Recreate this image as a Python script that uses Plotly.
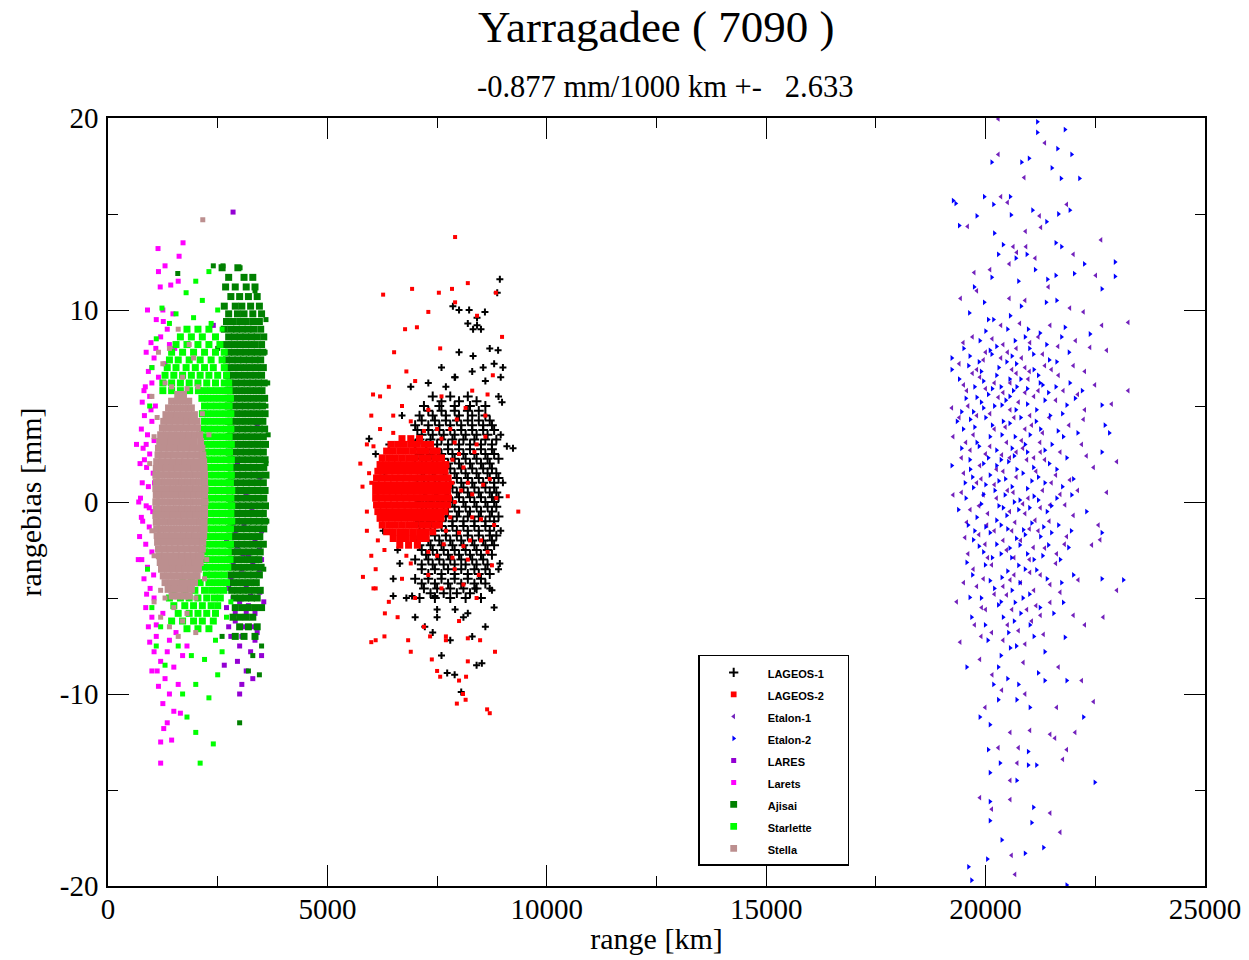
import plotly.graph_objects as go

# ---------------- data (range km, rangebias mm) ----------------
# dense parts are given as rows: (rangebias, [ranges...]); sparse points as (range, rangebias)

lageos1_rows = [
    (5.5, [7400, 7800, 8200]),
    (5.25, [7600, 8000, 8400]),
    (5.0, [7200, 7550, 7900, 8250, 8600]),
    (4.75, [7300, 7600, 7900, 8200, 8450]),
    (4.5, [7100, 7400, 7700, 8000, 8300, 8600]),
    (4.25, [7150, 7450, 7700, 7950, 8200, 8450, 8700]),
    (4.0, [7000, 7300, 7550, 7800, 8050, 8300, 8550, 8750]),
    (3.75, [7050, 7300, 7550, 7800, 8050, 8300, 8550, 8800]),
    (3.5, [7150, 7400, 7650, 7900, 8150, 8400, 8650]),
    (3.25, [7100, 7350, 7600, 7850, 8100, 8350, 8600, 8850]),
    (3.0, [7000, 7250, 7500, 7750, 8000, 8250, 8500, 8750]),
    (2.75, [7000, 7250, 7500, 7750, 8000, 8250, 8500, 8750]),
    (2.5, [7100, 7350, 7600, 7850, 8100, 8350, 8600, 8800]),
    (2.25, [7150, 7400, 7650, 7900, 8150, 8400, 8650, 8900]),
    (2.0, [7000, 7250, 7500, 7750, 8000, 8250, 8500, 8700]),
    (1.75, [7050, 7300, 7550, 7800, 8050, 8300, 8550, 8750]),
    (1.5, [7150, 7400, 7650, 7900, 8150, 8400, 8650, 8850]),
    (1.25, [7200, 7450, 7700, 7950, 8200, 8450, 8700, 8900]),
    (1.0, [7050, 7300, 7550, 7800, 8050, 8300, 8550, 8800]),
    (0.75, [7100, 7350, 7600, 7850, 8100, 8350, 8600, 8800]),
    (0.5, [7200, 7450, 7700, 7950, 8200, 8450, 8700, 8850]),
    (0.25, [7250, 7500, 7750, 8000, 8250, 8500, 8750, 8900]),
    (0.0, [7100, 7350, 7600, 7850, 8100, 8350, 8600, 8800]),
    (-0.25, [7150, 7400, 7650, 7900, 8150, 8400, 8650, 8850]),
    (-0.5, [7250, 7500, 7750, 8000, 8250, 8500, 8750]),
    (-0.75, [7200, 7450, 7700, 7950, 8200, 8450, 8700, 8900]),
    (-1.0, [7100, 7350, 7600, 7850, 8100, 8350, 8600, 8800]),
    (-1.25, [7100, 7350, 7600, 7850, 8100, 8350, 8600, 8800]),
    (-1.5, [7200, 7450, 7700, 7950, 8200, 8450, 8700]),
    (-1.75, [7200, 7450, 7700, 7950, 8200, 8450, 8700, 8850]),
    (-2.0, [7050, 7300, 7550, 7800, 8050, 8300, 8550, 8750]),
    (-2.25, [7100, 7350, 7600, 7850, 8100, 8350, 8600, 8800]),
    (-2.5, [7150, 7400, 7650, 7900, 8150, 8400, 8650]),
    (-2.75, [7250, 7500, 7750, 8000, 8250, 8500, 8750]),
    (-3.0, [7000, 7300, 7550, 7800, 8050, 8300, 8550]),
    (-3.25, [7150, 7400, 7650, 7900, 8150, 8400, 8650]),
    (-3.5, [7150, 7450, 7750, 8050, 8350, 8600]),
    (-3.75, [7300, 7600, 7900, 8200, 8450, 8700]),
    (-4.0, [7000, 7300, 7600, 7900, 8200, 8500]),
    (-4.25, [7150, 7450, 7750, 8050, 8350, 8600]),
    (-4.5, [7200, 7500, 7800, 8100, 8400]),
    (-4.75, [7350, 7650, 7950, 8250]),
    (-5.0, [7100, 7450, 7800, 8150, 8500]),
]
lageos1_pts = [
    (6400, 3.0), (6600, -2.5), (6700, 4.5), (6500, -4.0), (6300, 1.5), (6800, -5.0), (6900, 6.0),
    (5950, 3.3), (6100, 2.5), (6270, -1.5), (6650, -3.2),
    (8930, 11.6), (7860, 10.2), (8230, 10.0), (8410, 9.6), (8320, 9.0), (8410, 9.2), (8870, 10.9),
    (8890, 7.9), (9000, 7.0), (8320, 7.6), (8550, 7.0), (7910, 6.5), (8980, 5.2), (9090, 2.9),
    (9230, 2.8), (8930, -3.2), (8750, -4.6), (8360, -4.5), (8520, -8.4), (7730, -8.9), (6930, -4.9),
    (6500, -4.9), (7450, -4.9), (7910, -5.6), (7500, -6.0), (7220, -6.5), (8590, 9.9),
    (8200, 9.3), (8500, 9.0), (8700, 8.0), (8000, 7.8), (8800, 7.2), (7600, 7.0), (8300, 6.8),
    (8600, 6.3), (7300, 6.2), (7900, 6.5), (8900, 5.5), (8950, 3.5), (9000, 1.0), (8950, -1.5),
    (8900, -3.5), (8800, -5.5), (8600, -6.5), (8300, -7.0), (7800, -7.2), (7400, -6.8), (8100, -6.0),
    (7600, -8.0), (8400, -8.5), (7900, -9.0), (8200, -5.8), (7000, -6.0), (8700, -4.5), (7500, -5.6),
    (8000, 10.0), (8050, -9.9), (7700, 6.0), (8950, 6.5),
]

lageos2_rows = [
    (3.3, [6700, 6900, 7100]),
    (3.0, [6450, 6600, 6750, 6900, 7050, 7200, 7350]),
    (2.65, [6350, 6500, 6650, 6800, 6950, 7100, 7250, 7400, 7500]),
    (2.3, [6250, 6400, 6550, 6700, 6850, 7000, 7150, 7300, 7450, 7600]),
    (1.95, [6200, 6330, 6470, 6600, 6740, 6880, 7020, 7160, 7300, 7440, 7580, 7700]),
    (1.6, [6150, 6280, 6420, 6560, 6700, 6840, 6980, 7120, 7260, 7400, 7540, 7680]),
    (1.25, [6120, 6250, 6390, 6530, 6670, 6810, 6950, 7090, 7230, 7370, 7510, 7650, 7750]),
    (0.9, [6100, 6230, 6370, 6510, 6650, 6790, 6930, 7070, 7210, 7350, 7490, 7630, 7760]),
    (0.55, [6100, 6200, 6340, 6480, 6620, 6760, 6900, 7040, 7180, 7320, 7460, 7600, 7740]),
    (0.2, [6100, 6230, 6370, 6510, 6650, 6790, 6930, 7070, 7210, 7350, 7490, 7630, 7760]),
    (-0.15, [6120, 6250, 6390, 6530, 6670, 6810, 6950, 7090, 7230, 7370, 7510, 7650, 7740]),
    (-0.5, [6150, 6280, 6420, 6560, 6700, 6840, 6980, 7120, 7260, 7400, 7540, 7680]),
    (-0.85, [6200, 6330, 6470, 6610, 6750, 6890, 7030, 7170, 7310, 7450, 7590]),
    (-1.2, [6250, 6400, 6550, 6700, 6850, 7000, 7150, 7300, 7450, 7550]),
    (-1.55, [6350, 6500, 6650, 6800, 6950, 7100, 7250, 7400]),
    (-1.9, [6500, 6650, 6800, 6950, 7100, 7250]),
    (-2.25, [6650, 6850, 7050]),
]
lageos2_pts = [
    (5900, 3.0), (6000, 4.5), (6200, 5.5), (6400, 6.0), (6700, 5.0), (7000, 6.3), (7300, 4.8),
    (7600, 5.5), (7800, 3.8), (8000, 2.5), (8200, 1.0), (8300, -0.8), (8100, -2.3), (7900, -3.5),
    (7600, -4.5), (7300, -3.8), (7000, -5.0), (6700, -4.0), (6400, -5.2), (6100, -3.5), (5900, -1.5),
    (5800, 0.8), (5750, 2.0), (6000, -2.8), (6300, -2.5), (6900, -3.2), (7500, -2.8), (7700, -1.5),
    (7900, 0.0), (7850, 2.2), (7500, 3.8), (6900, 4.2), (6500, 4.5), (6200, 3.8), (6050, -4.5),
    (6600, -6.0), (7200, -6.5), (7700, -7.0), (8000, -6.2), (6300, -7.0), (6900, -7.8),
    (7500, -8.8), (8200, -8.3), (6000, -7.3), (8000, -9.3), (8700, -11.0), (9350, -0.5),
    (7910, 13.8), (8200, 11.4), (6270, 10.8), (6930, 11.1), (7540, 10.9), (7840, 11.1), (8840, 10.9),
    (7300, 9.9), (7910, 10.4), (8410, 9.7), (8980, 8.6), (6770, 9.0), (7040, 9.1), (7570, 8.0),
    (6520, 7.8), (8770, 6.6), (6040, 5.6), (9110, 0.3), (5810, -3.9), (6100, -4.5), (6310, -5.8),
    (6100, -7.2), (6840, -7.2), (7340, -7.0), (7700, -7.2), (8200, -7.1), (8480, -7.2), (7380, -8.2),
    (7570, -9.1), (8160, -9.1), (8820, -7.8), (8090, -10.0), (7950, -10.5), (8640, -10.8),
    (8150, -10.3), (5950, 1.5), (8400, 3.0), (8500, -2.0), (8600, 4.5), (6800, 6.8),
    (5900, -0.5), (6050, 2.9), (6000, 1.0), (6150, -2.0), (7850, 1.0), (7800, -0.8), (7600, 3.3),
    (7650, -2.2), (6500, 3.6), (7200, 3.7), (6800, -2.8), (7300, -2.6),
    (7900, 3.1), (8100, 1.8), (8300, 0.4), (8500, -0.9), (8700, 1.2), (8000, -1.6), (8200, -3.0),
    (8450, -3.8), (8650, -2.6), (7950, 4.3), (8350, 2.6), (8600, 3.4), (8800, -1.2), (8050, 0.6),
    (8250, -2.0), (8550, 0.9), (8750, -3.3), (8150, 4.9), (7850, -2.9), (8400, -5.0), (8650, 5.6),
    (8100, -4.3), (8300, 5.8), (8850, 0.2),
]

etalon1_pts = [
    (20290, 19.95), (21350, 18.7), (20290, 18.1), (20880, 16.9), (20350, 15.9), (20500, 15.6),
    (21230, 14.9), (21850, 15.5), (19590, 14.35), (20910, 14.1), (21260, 14.3), (22630, 13.65),
    (20630, 13.3), (20920, 13.3), (20710, 13.0), (21130, 12.7), (22000, 12.9), (20100, 12.1),
    (20540, 12.4), (22510, 11.8), (19740, 11.95), (21430, 11.2), (19430, 10.6), (19800, 11.0),
    (20540, 10.6), (20900, 10.5), (21920, 10.1), (22230, 9.9), (23250, 9.35), (20350, 9.2),
    (20780, 9.3), (21470, 9.2), (22650, 9.2),
    (19490, 8.3), (20400, 8.2), (21010, 8.3), (22050, 8.4), (22380, 8.05), (22760, 7.9),
    (19950, 7.4), (20820, 7.5), (21350, 7.1), (22260, 6.8), (19870, 6.5), (20560, 6.2),
    (20970, 6.4), (21660, 6.6), (22490, 6.1), (19570, 5.8), (20290, 5.45), (20900, 5.7),
    (21770, 5.8), (22260, 4.8), (22870, 5.1), (23250, 5.8), (19230, 4.9), (20560, 4.8),
    (21010, 4.5), (22230, 4.3), (19260, 3.4), (19720, 3.5), (20480, 3.1), (20820, 3.2),
    (21240, 3.1), (22190, 3.0), (19450, 2.3), (19870, 1.9), (20370, 2.45), (20940, 2.2),
    (21350, 2.2), (21920, 1.15), (22460, 1.8), (22990, 2.1), (19260, 0.37), (19950, 0.37),
    (20630, 0.5), (20970, 0.2), (21470, -0.15), (21810, -0.15), (22760, 0.5), (19570, -1.06),
    (20030, -1.2), (20670, -1.06), (21130, -0.95), (22000, -0.7), (22570, -1.2), (19530, -1.85),
    (19990, -2.2), (20480, -2.5), (21090, -2.37), (21620, -2.7), (22420, -2.24), (22610, -1.97),
    (19720, -3.5), (20140, -3.28), (20560, -4.06), (21010, -3.67), (21470, -4.3), (22110, -4.06),
    (22990, -4.6), (19340, -5.2), (19910, -5.5), (20480, -4.84), (20940, -5.6), (21470, -5.23),
    (22000, -5.9), (22260, -6.4), (22680, -6.0), (20140, -6.8), (20750, -6.7), (21320, -6.9),
    (19420, -7.3), (19870, -8.2), (20860, -8.36), (21660, -8.6), (22190, -9.3), (22460, -10.4),
    (20370, -9.8), (21620, -10.7), (19990, -10.7), (20560, -12.0), (21010, -11.9), (21470, -12.1),
    (22040, -12.0), (20290, -12.8), (20750, -12.8), (20720, -13.6), (21580, -12.3), (21760, -13.4),
    (21850, -12.9), (20560, -14.5), (19870, -15.4), (20140, -16.0), (20560, -15.5), (21470, -16.2),
    (21700, -17.2), (20590, -18.4), (20670, -19.4),
    (20000, 7.8), (20500, 7.8), (20900, 7.0), (21300, 7.7), (19800, 6.9), (20200, 6.2),
    (20700, 6.7), (21100, 5.5), (19600, 5.0), (20100, 4.6), (20450, 3.9), (20900, 3.8),
    (21300, 3.6), (19550, 3.1), (20000, 2.5), (20400, 1.6), (20700, 2.6), (21100, 2.3),
    (21500, 1.0), (19800, 1.0), (20200, 0.9), (20550, -0.5), (20900, -0.6), (21300, 0.6),
    (19650, -0.4), (20050, -0.6), (20400, -2.0), (20800, -2.0), (21200, -1.5), (21600, -3.2),
    (19800, -4.4), (20200, -4.8), (20650, -3.8), (21100, -4.6), (20400, -7.2), (20900, -7.4),
    (21250, -5.9), (19900, -7.0), (20150, -9.0), (20900, -10.0),
    (19700, 8.6), (20150, 8.5), (20700, 8.0), (21200, 8.6), (21650, 8.1),
    (19400, 7.2), (19700, 6.7), (20350, 7.5), (20600, 6.9), (21000, 6.8), (21500, 6.9), (22000, 7.1),
    (19500, 6.1), (20000, 5.9), (20400, 5.7), (20750, 5.2), (21200, 5.8), (21600, 5.3), (22100, 5.6),
    (19400, 4.4), (19800, 4.5), (20200, 3.8), (20650, 4.4), (21050, 4.0), (21450, 4.4), (21900, 4.0),
    (19650, 2.7), (20100, 2.9), (20550, 2.3), (20850, 2.8), (21250, 2.6), (21700, 2.6), (22300, 2.4),
    (19500, 1.5), (19900, 1.2), (20250, 1.7), (20700, 1.3), (21150, 1.6), (21600, 1.4), (22100, 0.6),
    (19450, 0.5), (19850, -0.2), (20250, 0.2), (20500, 0.6), (20850, -0.1), (21250, -0.3), (21700, 0.4),
    (19850, -1.7), (20200, -1.5), (20600, -1.5), (21000, -1.4), (21450, -1.0), (21850, -1.8),
    (19600, -2.7), (20050, -2.9), (20650, -2.9), (21000, -3.0), (21350, -2.4), (21800, -2.2),
    (19500, -4.2), (19950, -4.0), (20400, -4.4), (20800, -4.2), (21250, -3.8), (21700, -4.7),
    (20000, -5.6), (20600, -5.6), (21150, -5.4), (19750, -6.4), (20500, -6.4), (21050, -6.2),
]

etalon2_pts = [
    (21180, 19.8), (21180, 19.25), (21810, 19.4), (21640, 18.4), (21960, 18.1), (20140, 17.7),
    (20820, 17.7), (20990, 17.9), (21510, 17.4), (21720, 16.85), (22140, 16.85), (19320, 15.55),
    (19970, 15.9), (20560, 15.9), (20180, 15.5), (20580, 14.95), (21070, 15.2), (21660, 15.0),
    (21920, 15.2), (19800, 14.9), (19400, 14.4), (21390, 14.6), (20200, 14.0), (20400, 13.4),
    (21600, 13.5), (21730, 13.3), (20290, 12.9), (20690, 12.7), (20940, 12.9), (22250, 12.4),
    (22950, 12.5), (21130, 12.1), (21600, 11.8), (22020, 11.9), (22950, 11.75), (20140, 11.7),
    (20750, 11.5), (21410, 11.6), (22650, 11.1), (19740, 11.2), (19970, 10.4), (20810, 10.2),
    (21380, 10.4), (21620, 10.5), (19630, 9.85), (20060, 9.5), (20180, 9.5), (20560, 9.7),
    (20970, 9.0), (21240, 8.8), (21810, 9.1), (22380, 8.75), (19260, 15.7),
    (19870, 8.4), (20100, 7.9), (20670, 8.4), (21390, 8.2), (21730, 8.6), (19230, 7.5),
    (19640, 7.6), (20140, 7.7), (20480, 7.3), (21090, 7.7), (21620, 7.3), (19230, 6.9),
    (19610, 7.1), (20250, 6.6), (20710, 6.0), (21240, 6.2), (21920, 6.2), (19800, 5.45),
    (20060, 5.6), (20460, 5.3), (20630, 5.8), (21430, 5.7), (22040, 5.4), (22650, 5.05),
    (19450, 4.7), (19720, 4.7), (19950, 4.9), (20370, 5.05), (20690, 4.8), (21160, 4.8),
    (21470, 4.5), (21850, 5.05), (22720, 4.0), (22820, 3.6), (19490, 3.8), (19800, 3.1),
    (20100, 3.4), (20370, 3.5), (20670, 3.4), (21010, 3.5), (21510, 3.0), (21770, 3.4),
    (22650, 2.6), (19640, 2.2), (20060, 2.3), (20250, 1.9), (20520, 2.1), (20710, 1.7),
    (21090, 1.8), (21620, 1.7), (22000, 1.2), (19230, 1.9), (19530, 1.0), (19720, 0.75),
    (20210, 0.6), (20440, 0.37), (20780, 0.1), (21200, 0.1), (21620, 0.2), (21960, 0.37),
    (19380, -0.4), (19800, -0.8), (20250, -0.95), (20480, -0.7), (20860, -1.45), (21320, -1.3),
    (21660, -1.2), (22650, -1.6), (19720, -1.97), (20250, -2.2), (20590, -2.9), (20780, -2.24),
    (21430, -2.24), (21890, -2.37),
    (19570, -3.15), (19990, -3.28), (20370, -3.93), (20780, -4.2), (21160, -3.54), (21730, -4.2),
    (22650, -4.0), (23140, -4.06), (19640, -4.97), (20290, -5.36), (20670, -5.23), (21240, -5.5),
    (21770, -5.23), (19680, -6.0), (19990, -6.4), (20520, -6.8), (21010, -6.4), (21810, -7.05),
    (21350, -7.8), (19570, -8.6), (20290, -8.6), (20560, -7.6), (21200, -8.9), (21850, -9.3),
    (20180, -9.5), (20750, -9.5), (21350, -9.3), (20290, -10.3), (20710, -10.3), (21010, -10.7),
    (22230, -11.2), (19870, -11.2), (20100, -11.6), (20060, -12.9), (20970, -13.0), (20330, -13.6),
    (20970, -13.7), (21160, -13.7), (20100, -14.1), (20710, -14.5), (22490, -14.6), (20100, -15.6),
    (21090, -15.9), (20100, -16.6), (21050, -16.7), (20370, -17.6), (20900, -18.3), (21320, -18.0),
    (20040, -18.6), (19610, -19.0), (19680, -19.7), (21850, -19.95),
    (19900, 6.8), (20300, 7.0), (20700, 7.2), (21100, 6.9), (19750, 6.0), (20150, 5.9),
    (20550, 6.4), (20950, 5.9), (21300, 6.1), (19650, 4.3), (20000, 4.4), (20400, 4.2),
    (20800, 4.4), (21150, 4.2), (19850, 2.9), (20250, 2.7), (20600, 2.8), (20950, 2.6),
    (21350, 2.7), (19700, 1.3), (20100, 1.4), (20450, 1.2), (20850, 1.5), (21200, 1.3),
    (19900, -0.1), (20300, -0.2), (20650, 0.0), (21000, -0.3), (21400, -0.5), (19750, -1.5),
    (20100, -1.6), (20500, -1.4), (20900, -1.7), (21250, -1.8), (19950, -2.6), (20350, -2.7),
    (20750, -3.3), (21100, -3.0), (20000, 8.9), (20500, 9.0), (20900, 8.6), (20200, -4.5),
    (20600, -4.6), (21000, -4.8), (20400, -6.0), (20800, -5.8), (20700, -7.5), (20350, -8.0),
    (20500, -9.2),
    (19500, 8.0), (19850, 7.3), (20250, 8.1), (20600, 7.6), (21000, 8.0), (21450, 7.4), (21900, 7.8),
    (19400, 6.4), (19950, 6.3), (20350, 6.0), (20800, 6.4), (21200, 6.6), (21600, 6.0), (22200, 5.8),
    (19550, 5.4), (19900, 5.2), (20200, 5.0), (20550, 5.5), (20950, 5.1), (21350, 5.3), (21750, 4.6),
    (19350, 4.2), (19750, 3.9), (20150, 4.0), (20550, 4.1), (20900, 3.0), (21250, 3.8), (21650, 3.7),
    (22100, 3.6), (19450, 2.8), (19950, 2.0), (20350, 2.2), (20650, 2.4), (21050, 1.1), (21450, 2.0),
    (21850, 2.3), (19650, 1.7), (20000, 0.9), (20300, 1.1), (20600, 0.8), (20950, 0.7), (21350, 1.0),
    (21750, 0.8), (19550, 0.2), (19950, 0.4), (20400, -0.3), (20750, -0.4), (21100, 0.3), (21500, -0.2),
    (22300, -0.5), (19600, -1.2), (20000, -1.3), (20350, -1.2), (20700, -1.9), (21050, -1.1),
    (21500, -1.6), (21950, -1.5), (19850, -2.3), (20150, -2.9), (20550, -2.4), (20950, -2.7),
    (21300, -2.8), (21700, -3.0), (19700, -3.8), (20100, -4.1), (20500, -3.6), (20900, -3.5),
    (21400, -4.0), (22000, -3.8), (19900, -5.0), (20350, -5.2), (20850, -5.0), (21550, -5.8),
    (20050, -7.2), (20650, -6.2), (21100, -7.0),
]

lares_pts = [
    (2850, 15.1), (2400, 9.2), (3190, 8.6), (3300, 7.0), (3460, 5.0), (3460, 1.3), (3390, 0.6),
    (3280, -0.5), (2850, -1.1), (3500, -1.5), (3080, -2.7), (2950, -3.0), (3300, -3.2), (3460, -4.7),
    (2800, -4.0), (3150, -4.5), (3000, -5.2), (2700, -5.5), (3350, -5.8), (2900, -6.2), (3100, -6.5),
    (3400, -6.8), (2800, -7.0), (3000, -7.5), (3250, -7.8), (2950, -8.3), (3150, -8.8), (3050, -9.5),
    (3000, -10.0), (3300, -9.2), (2650, -8.5), (3500, -8.0), (3100, -3.8), (2700, -2.0), (3350, 3.0),
    (3200, -1.8), (2900, -5.8), (3050, -4.2), (2750, -6.5), (3200, -5.4), (3450, -3.6), (3550, -5.2),
    (2900, -1.5), (3100, -1.2), (3350, -2.0), (2950, -2.3), (3200, -2.8), (3450, -2.5), (2850, -3.3),
    (3050, -3.5), (3350, -4.2), (2950, -4.6), (3250, -4.9), (3500, -3.0), (3000, -6.0), (3300, -6.5),
    (2850, -5.0), (3150, -5.8), (3400, -5.5), (2750, -4.5), (3050, -7.0), (3350, -7.2), (3450, -1.0),
    (3150, 0.5), (2950, 2.0), (3400, 4.0),
]

larets_pts = [
    (1710, 13.5), (1140, 13.2), (1620, 12.8), (1430, 11.3), (1190, 11.2), (1250, 10.0), (1480, 9.8),
    (1100, 9.5), (1350, 9.0), (980, 8.3), (1200, 8.6), (1520, 8.0), (870, 7.8), (1050, 7.5),
    (1300, 7.2), (920, 6.8), (1150, 6.5), (850, 6.0), (1000, 6.2), (780, 5.2), (950, 5.5),
    (1080, 5.0), (830, 4.5), (1000, 4.2), (760, 3.8), (900, 3.5), (1050, 3.2), (800, 2.8),
    (950, 2.5), (730, 2.0), (880, 1.8), (1030, 1.5), (780, 1.0), (920, 0.8), (740, 0.2),
    (870, -0.2), (1020, -0.5), (790, -1.0), (940, -1.3), (720, -1.8), (860, -2.2), (1000, -2.6),
    (770, -3.0), (900, -3.4), (820, -4.0), (960, -4.5), (1050, -5.0), (860, -5.5), (1000, -6.0),
    (920, -6.5), (1100, -7.0), (1050, -7.8), (1200, -8.3), (1000, -8.8), (1300, -9.2), (1150, -9.6),
    (1400, -10.0), (1250, -10.5), (1500, -10.9), (1350, -11.5), (1200, -12.5), (1200, -13.6),
    (1600, -9.5), (1700, -8.0), (1800, -7.5), (1400, -7.2), (1550, -6.8), (1650, -11.0),
    (1100, -6.4), (1250, -5.8), (1000, 7.0), (1400, 8.2), (700, 0.0), (650, 3.0), (690, -3.0),
    (1150, 12.0), (1600, 11.5), (900, 10.0), (1300, 12.3), (820, 5.8), (760, -0.8), (830, 2.2),
    (980, 4.8), (1060, 1.0), (1040, -3.8), (880, -4.8), (950, -7.3), (1120, -8.8), (1350, -7.8),
    (1500, -8.6), (1270, -11.8), (1450, -12.4), (870, 3.0), (940, -0.3), (1090, 8.0), (1260, 9.4),
]

ajisai_rows = [
    (12.2, [2600, 2960]),
    (11.7, [2750, 3100, 3300]),
    (11.2, [2680, 2900, 3150, 3350]),
    (10.7, [2800, 3000, 3200, 3400]),
    (10.2, [2650, 2900, 3050, 3250, 3450]),
    (9.8, [2750, 2950, 3100, 3300, 3500]),
    (9.4, [2700, 2850, 3000, 3150, 3300, 3450]),
    (9.0, [2650, 2800, 2930, 3060, 3190, 3320, 3480]),
    (8.6, [2750, 2880, 3010, 3140, 3270, 3400, 3550]),
    (8.2, [2690, 2820, 2950, 3080, 3210, 3340, 3500]),
    (7.8, [2750, 2880, 3010, 3140, 3270, 3400, 3530]),
    (7.4, [2700, 2830, 2960, 3090, 3220, 3350, 3480]),
    (7.0, [2760, 2890, 3020, 3150, 3280, 3410, 3540]),
    (6.6, [2720, 2850, 2980, 3110, 3240, 3370, 3500]),
    (6.2, [2780, 2910, 3040, 3170, 3300, 3430, 3560]),
    (5.8, [2730, 2860, 2990, 3120, 3250, 3380, 3510]),
    (5.4, [2790, 2920, 3050, 3180, 3310, 3440, 3570]),
    (5.0, [2740, 2870, 3000, 3130, 3260, 3390, 3520]),
    (4.6, [2800, 2930, 3060, 3190, 3320, 3450, 3580]),
    (4.2, [2750, 2880, 3010, 3140, 3270, 3400, 3530]),
    (3.8, [2800, 2930, 3060, 3190, 3320, 3450, 3570]),
    (3.4, [2760, 2890, 3020, 3150, 3280, 3410, 3540]),
    (3.0, [2810, 2940, 3070, 3200, 3330, 3460, 3590]),
    (2.6, [2760, 2890, 3020, 3150, 3280, 3410, 3540]),
    (2.2, [2800, 2930, 3060, 3190, 3320, 3450, 3580]),
    (1.8, [2770, 2900, 3030, 3160, 3290, 3420, 3550]),
    (1.4, [2810, 2940, 3070, 3200, 3330, 3460, 3600]),
    (1.0, [2760, 2890, 3020, 3150, 3280, 3410, 3540]),
    (0.6, [2800, 2930, 3060, 3190, 3320, 3450, 3580]),
    (0.2, [2770, 2900, 3030, 3160, 3290, 3420, 3550]),
    (-0.2, [2810, 2940, 3070, 3200, 3330, 3460, 3590]),
    (-0.6, [2760, 2890, 3020, 3150, 3280, 3410, 3540]),
    (-1.0, [2800, 2930, 3060, 3190, 3320, 3450, 3570]),
    (-1.4, [2770, 2900, 3030, 3160, 3290, 3420, 3550]),
    (-1.8, [2810, 2940, 3070, 3200, 3330, 3460]),
    (-2.2, [2780, 2910, 3040, 3170, 3300, 3430, 3540]),
    (-2.6, [2820, 2950, 3080, 3210, 3340, 3470]),
    (-3.0, [2790, 2920, 3050, 3180, 3310, 3440]),
    (-3.4, [2840, 2970, 3100, 3230, 3360, 3490]),
    (-3.8, [2800, 2930, 3060, 3190, 3320, 3450]),
    (-4.2, [2860, 2990, 3120, 3250, 3380]),
    (-4.6, [2820, 2950, 3080, 3210, 3340, 3470]),
    (-5.0, [2880, 3010, 3140, 3270, 3400]),
    (-5.5, [2900, 3050, 3200, 3350, 3500]),
    (-6.0, [2850, 3000, 3150, 3300]),
    (-6.5, [3000, 3200, 3400]),
    (-7.0, [2900, 3100, 3350]),
]
ajisai_pts = [
    (3000, -11.5), (3300, -8.0), (3500, -7.5), (3450, -9.0), (3200, -8.8), (2600, -7.0), (3600, 2.0),
    (3620, -1.0), (3600, 5.0), (3580, 7.8), (3550, -3.5), (3600, 9.5), (2500, 8.0), (2400, 12.3),
    (2620, 12.3), (3010, 12.2), (1590, 11.9), (3350, 11.0), (3650, 3.5), (3640, 6.2),
]

starlette_rows = [
    (9.0, [1800, 2050, 2300]),
    (8.6, [1650, 1900, 2150, 2450]),
    (8.2, [1550, 1800, 2050, 2300, 2550]),
    (7.8, [1450, 1700, 1950, 2200, 2450, 2650]),
    (7.4, [1400, 1600, 1850, 2100, 2350, 2600]),
    (7.0, [1350, 1550, 1780, 1990, 2200, 2400, 2650]),
    (6.6, [1300, 1500, 1700, 1900, 2100, 2300, 2500, 2700]),
    (6.2, [1250, 1450, 1650, 1850, 2050, 2250, 2450, 2650, 2750]),
    (5.8, [1250, 1450, 1650, 1860, 2060, 2200, 2340, 2480, 2620, 2760]),
    (5.4, [2140, 2270, 2410, 2550, 2690, 2790]),
    (5.0, [2200, 2340, 2480, 2620, 2760]),
    (4.6, [2150, 2270, 2410, 2550, 2690, 2800]),
    (4.2, [2200, 2340, 2480, 2620, 2760]),
    (3.8, [2160, 2280, 2420, 2560, 2700, 2800]),
    (3.4, [2200, 2340, 2480, 2620, 2760]),
    (3.0, [2160, 2280, 2420, 2560, 2700, 2810]),
    (2.6, [2220, 2350, 2490, 2630, 2770]),
    (2.2, [2170, 2290, 2430, 2570, 2710, 2810]),
    (1.8, [2220, 2360, 2500, 2640, 2780]),
    (1.4, [2180, 2300, 2440, 2580, 2720, 2810]),
    (1.0, [2230, 2370, 2510, 2650, 2790]),
    (0.6, [2190, 2310, 2450, 2590, 2730, 2820]),
    (0.2, [2240, 2380, 2520, 2660, 2800]),
    (-0.2, [2200, 2320, 2460, 2600, 2740, 2820]),
    (-0.6, [2250, 2390, 2530, 2670, 2800]),
    (-1.0, [2200, 2330, 2470, 2610, 2750, 2820]),
    (-1.4, [2240, 2380, 2520, 2660, 2790]),
    (-1.8, [2200, 2330, 2470, 2610, 2750]),
    (-2.2, [2250, 2390, 2530, 2670, 2790]),
    (-2.6, [2200, 2320, 2460, 2600, 2740]),
    (-3.0, [2240, 2380, 2520, 2660, 2780]),
    (-3.4, [2190, 2310, 2450, 2590, 2730]),
    (-3.8, [2240, 2370, 2510, 2650]),
    (-4.2, [1700, 1900, 2100, 2300, 2440, 2580, 2700]),
    (-4.6, [1500, 1750, 1980, 2200, 2360, 2500, 2640]),
    (-5.0, [1400, 1650, 1850, 2050, 2250, 2420, 2560]),
    (-5.4, [1500, 1750, 1950, 2150, 2350, 2500]),
    (-5.8, [1600, 1850, 2050, 2250, 2450]),
    (-6.2, [1450, 1700, 1950, 2150, 2400]),
    (-6.6, [1800, 2050, 2300]),
]
starlette_pts = [
    (1230, 10.1), (1780, 10.9), (2000, 11.5), (2300, 12.0), (1550, 9.8), (2150, 10.5), (2500, 10.0),
    (1400, 9.3), (2600, 9.0), (1950, 9.6), (2350, 9.3), (1100, 8.5), (1000, 7.0), (950, 5.0),
    (900, -3.5), (1000, -5.5), (1100, -7.5), (1300, -8.5), (1600, -7.5), (1900, -8.0), (2200, -8.2),
    (2450, -7.2), (2000, -9.5), (1700, -10.0), (2300, -10.2), (2500, -9.0), (2000, -12.0),
    (2100, -13.6), (2400, -12.6), (1800, -11.2), (2600, -7.8), (2700, -6.0), (2800, -5.2),
    (1200, -6.5),
]

stella_rows = [
    (5.6, [1590, 1720]),
    (5.25, [1450, 1580, 1710, 1840]),
    (4.9, [1380, 1510, 1640, 1770, 1900]),
    (4.55, [1320, 1450, 1580, 1710, 1840, 1970]),
    (4.2, [1270, 1400, 1530, 1660, 1790, 1920, 2030]),
    (3.85, [1240, 1370, 1500, 1630, 1760, 1890, 2040]),
    (3.5, [1200, 1330, 1460, 1590, 1720, 1850, 1980, 2090]),
    (3.15, [1180, 1310, 1440, 1570, 1700, 1830, 1960, 2110]),
    (2.8, [1150, 1280, 1410, 1540, 1670, 1800, 1930, 2060, 2140]),
    (2.45, [1140, 1250, 1380, 1510, 1640, 1770, 1900, 2030, 2160]),
    (2.1, [1110, 1230, 1360, 1490, 1620, 1750, 1880, 2010, 2140, 2180]),
    (1.75, [1100, 1190, 1320, 1450, 1580, 1710, 1840, 1970, 2100, 2190]),
    (1.4, [1090, 1220, 1350, 1480, 1610, 1740, 1870, 2000, 2130, 2200]),
    (1.05, [1100, 1170, 1300, 1430, 1560, 1690, 1820, 1950, 2080, 2200]),
    (0.7, [1090, 1220, 1350, 1480, 1610, 1740, 1870, 2000, 2130, 2210]),
    (0.35, [1100, 1170, 1300, 1430, 1560, 1690, 1820, 1950, 2080, 2200]),
    (0.0, [1090, 1220, 1350, 1480, 1610, 1740, 1870, 2000, 2130, 2210]),
    (-0.35, [1100, 1170, 1300, 1430, 1560, 1690, 1820, 1950, 2080, 2200]),
    (-0.7, [1090, 1220, 1350, 1480, 1610, 1740, 1870, 2000, 2130, 2200]),
    (-1.05, [1100, 1180, 1310, 1440, 1570, 1700, 1830, 1960, 2090, 2190]),
    (-1.4, [1110, 1240, 1370, 1500, 1630, 1760, 1890, 2020, 2150, 2190]),
    (-1.75, [1120, 1200, 1330, 1460, 1590, 1720, 1850, 1980, 2110, 2180]),
    (-2.1, [1130, 1260, 1390, 1520, 1650, 1780, 1910, 2040, 2160]),
    (-2.45, [1150, 1280, 1410, 1540, 1670, 1800, 1930, 2060, 2150]),
    (-2.8, [1170, 1300, 1430, 1560, 1690, 1820, 1950, 2080, 2120]),
    (-3.15, [1190, 1330, 1460, 1590, 1720, 1850, 1980, 2100]),
    (-3.5, [1220, 1360, 1490, 1620, 1750, 1880, 2010, 2060]),
    (-3.85, [1260, 1390, 1520, 1650, 1780, 1910, 2030]),
    (-4.2, [1300, 1440, 1570, 1700, 1830, 1970]),
    (-4.55, [1370, 1500, 1630, 1760, 1900]),
    (-4.9, [1460, 1600, 1740, 1850]),
]
stella_pts = [
    (2160, 14.7), (1600, 9.0), (1400, 8.0), (1250, 7.2), (1950, 7.5), (1700, 6.5), (1300, 6.2),
    (2050, 6.0), (1000, 5.5), (950, 2.0), (1000, -1.5), (1050, -5.2), (1500, -5.5), (1800, -5.8),
    (1600, -7.0), (1400, -6.5), (2000, -6.8), (1300, -5.0), (2250, -3.0), (2300, 3.5), (1150, 7.8),
    (1850, 8.2), (1200, -6.0), (1700, -6.2), (1450, 6.0), (1800, 5.9), (2150, 4.6), (1120, 4.4),
    (1050, -2.8), (1200, -4.6), (2000, -5.0), (2200, -4.0), (1050, 3.4),
]

legend_names = ["LAGEOS-1", "LAGEOS-2", "Etalon-1", "Etalon-2", "LARES",
                "Larets", "Ajisai", "Starlette", "Stella"]
x_ticks = [0, 5000, 10000, 15000, 20000, 25000]
y_ticks = [-20, -10, 0, 10, 20]

# ---------------- figure ----------------
series = [
    (lageos1_rows, lageos1_pts),
    (lageos2_rows, lageos2_pts),
    ([], etalon1_pts),
    ([], etalon2_pts),
    ([], lares_pts),
    ([], larets_pts),
    (ajisai_rows, ajisai_pts),
    (starlette_rows, starlette_pts),
    (stella_rows, stella_pts),
]

# (symbol, colour, size for dense rows, size for sparse points, line width)
styles = [
    ("cross-thin", "black", 7, 5, 2),
    ("square", "#ff0000", 7, 4, 0),
    ("triangle-left", "#7221bc", 5, 5, 0),
    ("triangle-right", "#0000ff", 5, 5, 0),
    ("square", "#9400d3", 5, 5, 0),
    ("square", "#ff00ff", 5, 5, 0),
    ("square", "#008000", 7, 5, 0),
    ("square", "#00ff00", 7, 5, 0),
    ("square", "#bc8f8f", 7, 5, 0),
]

pad = "\u00a0" * 6  # widens the legend box to match the reference frame

fig = go.Figure()
for name, (rows, pts), (sym, col, s_dense, s_sparse, lw) in zip(legend_names, series, styles):
    xs, ys, sizes = [], [], []
    for y, row in rows:
        for x in row:
            xs.append(x)
            ys.append(y)
            sizes.append(s_dense)
    for x, y in pts:
        xs.append(x)
        ys.append(y)
        sizes.append(s_sparse)
    fig.add_trace(go.Scatter(
        x=xs, y=ys, mode="markers",
        name='<span style="font-size:11px">' + name + pad + "</span>",
        marker=dict(symbol=sym, size=sizes, color=col, opacity=1,
                    line=dict(width=lw, color=col)),
    ))

serif = "Liberation Serif"
axis_common = dict(
    showline=True, linewidth=1.5, linecolor="black", mirror="ticks",
    ticks="inside", ticklen=21, tickwidth=1.3, tickcolor="black",
    showgrid=False, zeroline=False, automargin=False,
    tickfont=dict(family=serif, size=29, color="black"),
)

fig.update_layout(
    width=1249, height=960,
    margin=dict(l=108, r=44, t=118, b=74),
    paper_bgcolor="white", plot_bgcolor="white",
    showlegend=True,
    legend=dict(
        x=0.538, y=0.3008, xanchor="left", yanchor="top",
        bordercolor="black", borderwidth=1.5, bgcolor="white",
        font=dict(family="Liberation Sans", size=14.6, color="black", weight="bold"),
        tracegroupgap=0, itemwidth=58, itemsizing="trace",
    ),
    xaxis=dict(
        range=[0, 25000], tickvals=x_ticks, ticktext=[str(v) for v in x_ticks],
        minor=dict(dtick=2500, ticks="inside", ticklen=10, tickwidth=1.3, tickcolor="black"),
        title=dict(text="range [km]", font=dict(family=serif, size=30, color="black"), standoff=4),
        ticklabelstandoff=-4,
        **axis_common,
    ),
    yaxis=dict(
        range=[-20, 20], tickvals=y_ticks, ticktext=[str(v) for v in y_ticks],
        minor=dict(dtick=5, ticks="inside", ticklen=10, tickwidth=1.3, tickcolor="black"),
        title=dict(text="rangebias [mm]", font=dict(family=serif, size=30, color="black"), standoff=9),
        ticklabelstandoff=2,
        **axis_common,
    ),
    annotations=[
        dict(text="Yarragadee ( 7090 )", x=0.5, y=1.119, xref="paper", yref="paper",
             xanchor="center", yanchor="middle", showarrow=False,
             font=dict(family=serif, size=45, color="black")),
        dict(text="-0.877 mm/1000 km +-\u00a0\u00a0\u00a02.633", x=0.508, y=1.040, xref="paper", yref="paper",
             xanchor="center", yanchor="middle", showarrow=False,
             font=dict(family=serif, size=30.5, color="black")),
    ],
)

fig.write_html("out.html")
